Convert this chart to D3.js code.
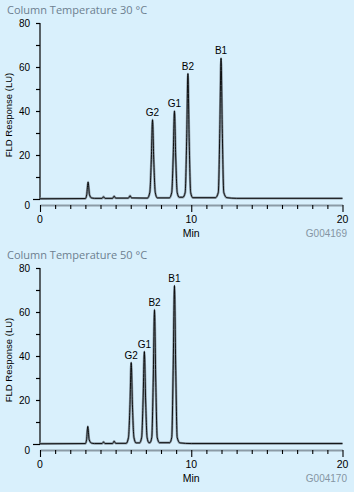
<!DOCTYPE html>
<html>
<head>
<meta charset="utf-8">
<script src="https://cdn.jsdelivr.net/npm/d3@7"></script>
<style>
    html, body { margin: 0; padding: 0; background: #d9f0fc; }
    #chart { width: 354px; height: 492px; }
    text { font-family: "Liberation Sans", Arial, sans-serif; fill: #000; }
    .panel-title { font-family: "Open Sans", sans-serif; font-size: 11px; fill: #6d7f90; }
    .fig-code { fill: #8595a3; }
</style>
</head>
<body>
<div id="chart"></div>
<script>
const panelTitles = ["Column Temperature 30 °C", "Column Temperature 50 °C"];
const figureCodes = ["G004169", "G004170"];
const yTickValues = [0, 20, 40, 60, 80];
const xTickValues = [0, 10, 20];
const peakNames = ["G2", "G1", "B2", "B1"];

const peakTimes30 = [7.44, 8.89, 9.78, 11.97];
const peakHeights30 = [36, 40, 57, 64];
const peakTimes50 = [6.03, 6.9, 7.57, 8.89];
const peakHeights50 = [37, 42, 61, 72];

// [min, LU]
const trace30 = [
    [0, 0.1], [3.0, 0.2], [3.09, 2], [3.18, 7.7], [3.27, 2], [3.4, 0.5], [3.6, 0.3],
    [4.1, 0.3], [4.2, 1.0], [4.3, 0.3], [4.8, 0.3], [4.9, 1.3], [5.0, 0.4],
    [5.85, 0.4], [5.95, 1.5], [6.05, 0.5], [7.1, 0.4],
    [7.26, 3], [7.36, 18], [7.44, 36], [7.52, 18], [7.62, 3], [7.75, 0.5],
    [8.55, 0.5], [8.71, 3], [8.81, 20], [8.89, 40], [8.97, 20], [9.07, 3], [9.2, 0.8],
    [9.45, 0.8], [9.6, 3], [9.7, 28], [9.78, 57], [9.86, 28], [9.96, 3], [10.1, 0.6],
    [11.6, 0.6], [11.79, 3], [11.89, 32], [11.97, 64], [12.05, 32], [12.15, 3], [12.35, 0.6],
    [13, 0.3], [20, 0.3]
];

const trace50 = [
    [0, 0.1], [3.0, 0.2], [3.08, 2], [3.16, 8], [3.25, 2], [3.4, 0.4], [3.6, 0.2],
    [4.1, 0.2], [4.2, 0.9], [4.3, 0.2], [4.8, 0.2], [4.9, 1.3], [5.0, 0.3], [5.7, 0.3],
    [5.85, 3], [5.95, 18], [6.03, 37], [6.11, 18], [6.21, 3], [6.35, 0.5],
    [6.58, 0.5], [6.72, 3], [6.82, 21], [6.9, 42], [6.98, 21], [7.08, 3], [7.2, 0.6],
    [7.27, 0.6], [7.39, 3], [7.49, 30], [7.57, 61], [7.65, 30], [7.75, 3], [7.9, 0.6],
    [8.58, 0.6], [8.71, 3], [8.81, 36], [8.89, 72], [8.97, 36], [9.07, 3], [9.25, 0.5],
    [10, 0.2], [20, 0.2]
];

const panels = [
    {title: panelTitles[0], code: figureCodes[0], trace: trace30, times: peakTimes30, heights: peakHeights30, top: 0},
    {title: panelTitles[1], code: figureCodes[1], trace: trace50, times: peakTimes50, heights: peakHeights50, top: 245}
];

const svg = d3.select("#chart")
    .append("svg")
    .attr("width", 354)
    .attr("height", 492);

panels.forEach(p => renderPanel(svg.append("g").attr("transform", `translate(0,${p.top})`), p));

function renderPanel(g, data){
    const x = d3.scaleLinear().domain([0, 20]).range([40, 342.5]);
    const y = d3.scaleLinear().domain([0, 80]).range([199, 23]);
    const xAxisY = 205;

    g.append("text")
        .attr("class", "panel-title")
        .attr("x", 7)
        .attr("y", 14)
        .text(data.title);

    // y axis
    const yAxis = g.append("g")
        .attr("transform", "translate(40,0)")
        .call(d3.axisLeft(y).tickValues(d3.range(0, 81, 10)).tickSize(4).tickFormat(""));
    yAxis.select(".domain").attr("stroke", "#000").attr("stroke-width", 1.2).attr("d", `M0,${y(80)}V${y(0)}`);
    yAxis.selectAll(".tick line").attr("stroke", "#000").attr("stroke-width", 1.2);
    yAxis.selectAll(".tick").filter(d => d === 0).select("line").attr("x2", -7);

    g.selectAll(".y-label")
        .data(yTickValues)
        .join("text")
        .attr("class", "y-label")
        .attr("x", 30)
        .attr("y", d => y(d) + (d === 0 ? 6 : 0))
        .attr("dy", "0.35em")
        .attr("text-anchor", "end")
        .attr("font-size", 10)
        .text(d => d);

    g.append("text")
        .attr("transform", `translate(12,${(y(0) + y(80)) / 2 + 4}) rotate(-90)`)
        .attr("text-anchor", "middle")
        .attr("font-size", 9.5)
        .text("FLD Response (LU)");

    // x axis
    const xAxis = g.append("g")
        .attr("transform", `translate(0,${xAxisY})`)
        .call(d3.axisBottom(x).tickValues(d3.range(0, 21, 1)).tickSize(4).tickSizeOuter(0).tickFormat(""));
    xAxis.select(".domain").attr("stroke", "#8c9ba6").attr("stroke-width", 2);
    xAxis.selectAll(".tick line").attr("stroke", "#000").attr("stroke-width", 1.1);
    xAxis.selectAll(".tick").filter(d => xTickValues.includes(d)).select("line").attr("y2", 7);

    g.selectAll(".x-label")
        .data(xTickValues)
        .join("text")
        .attr("class", "x-label")
        .attr("x", d => x(d))
        .attr("y", xAxisY + 18)
        .attr("text-anchor", "middle")
        .attr("font-size", 10.5)
        .text(d => d);

    g.append("text")
        .attr("x", x(10))
        .attr("y", xAxisY + 32)
        .attr("text-anchor", "middle")
        .attr("font-size", 10.5)
        .text("Min");

    g.append("text")
        .attr("class", "fig-code")
        .attr("x", 347)
        .attr("y", xAxisY + 32)
        .attr("text-anchor", "end")
        .attr("font-size", 10)
        .text(data.code);

    // trace
    const line = d3.line()
        .x(d => x(d[0]))
        .y(d => y(d[1]))
        .curve(d3.curveMonotoneX);

    g.append("path")
        .datum(data.trace)
        .attr("d", line)
        .attr("fill", "none")
        .attr("stroke", "#8c9ba6")
        .attr("stroke-width", 2.4);

    g.append("path")
        .datum(data.trace)
        .attr("d", line)
        .attr("fill", "none")
        .attr("stroke", "#000")
        .attr("stroke-width", 0.9);

    g.selectAll(".peak-label")
        .data(peakNames)
        .join("text")
        .attr("class", "peak-label")
        .attr("x", (d, i) => x(data.times[i]))
        .attr("y", (d, i) => y(data.heights[i]) - 4)
        .attr("text-anchor", "middle")
        .attr("font-size", 10)
        .text(d => d);
}
</script>
</body>
</html>
